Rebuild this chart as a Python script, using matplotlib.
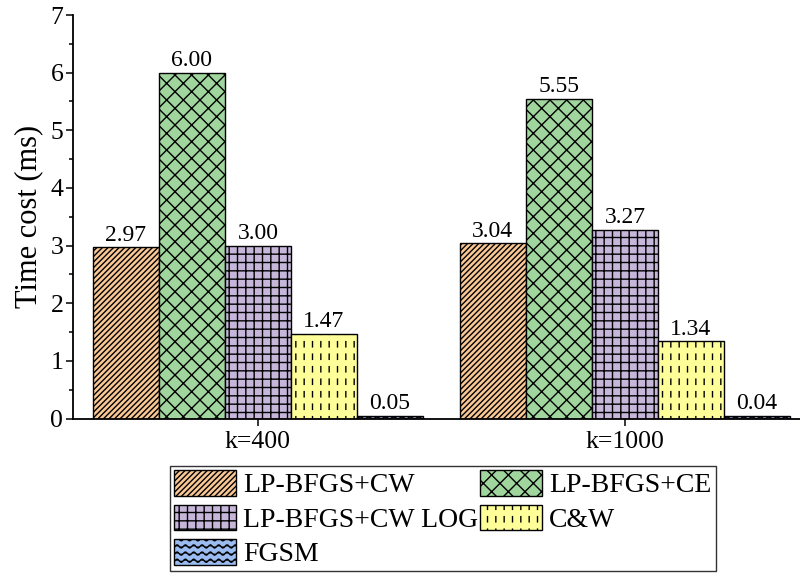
import warnings
warnings.filterwarnings("ignore")
import numpy as np
import matplotlib
matplotlib.use("Agg")
import matplotlib.pyplot as plt
import matplotlib.hatch as mhatch
from matplotlib.path import Path

# ---------------- data ----------------
categories = ["k=400", "k=1000"]
series_names = ["LP-BFGS+CW", "LP-BFGS+CE", "LP-BFGS+CW LOG", "C&W", "FGSM"]
lp_cw = [2.97, 3.04]
lp_ce = [6.00, 5.55]
lp_cw_log = [3.00, 3.27]
cw = [1.47, 1.34]
fgsm = [0.05, 0.04]
value_labels = [["2.97", "3.04"], ["6.00", "5.55"], ["3.00", "3.27"],
                ["1.47", "1.34"], ["0.05", "0.04"]]

# ---------------- custom hatches ----------------
class VDashHatch(mhatch.HatchPatternBase):
    def __init__(self, hatch, density):
        self.ncol, self.nrow = 12, 8
        self.num_vertices = self.ncol * self.nrow * 2 if '!' in hatch else 0

    def set_vertices_and_codes(self, vertices, codes):
        xs = (np.arange(self.ncol) + 0.5) / self.ncol
        ys = (np.arange(self.nrow) + 0.25) / self.nrow
        L = 0.42 / self.nrow
        k = 0
        for x in xs:
            for y in ys:
                vertices[k] = (x, y)
                vertices[k + 1] = (x, y + L)
                codes[k] = Path.MOVETO
                codes[k + 1] = Path.LINETO
                k += 2


class WaveHatch(mhatch.HatchPatternBase):
    def __init__(self, hatch, density):
        self.nrow, self.nwave, self.ppw = 14, 12, 8
        self.npts = self.nwave * self.ppw + 1
        self.num_vertices = self.nrow * self.npts if '~' in hatch else 0

    def set_vertices_and_codes(self, vertices, codes):
        t = np.linspace(0, 1, self.npts)
        amp = 0.22 / self.nrow
        k = 0
        for i in range(self.nrow):
            y0 = (i + 0.5) / self.nrow
            y = y0 + amp * np.sin(2 * np.pi * self.nwave * t)
            vertices[k:k + self.npts, 0] = t
            vertices[k:k + self.npts, 1] = y
            codes[k] = Path.MOVETO
            codes[k + 1:k + self.npts] = Path.LINETO
            k += self.npts


mhatch._hatch_types.append(VDashHatch)
mhatch._hatch_types.append(WaveHatch)

# ---------------- style ----------------
plt.rcParams['font.family'] = ['Liberation Serif', 'DejaVu Serif']
plt.rcParams['hatch.linewidth'] = 1.0
plt.rcParams['hatch.color'] = 'black'

colors = ['#FAC896', '#A0D69E', '#C5B6DA', '#FFFF99', '#9BBCF0']
hatches = ['//////', 'xx', '++', '!', '~']
series = [lp_cw, lp_ce, lp_cw_log, cw, fgsm]

fig = plt.figure(figsize=(8, 5.76), dpi=100)
ax = fig.add_axes([0.09125, 0.2734, 0.90875, 0.7005])

x = np.arange(len(categories))
w = 0.18
handles = []
for i, (vals, name, c, h) in enumerate(zip(series, series_names, colors, hatches)):
    pos = x + (i - 2) * w
    bars = ax.bar(pos, vals, width=w, color=c, edgecolor='black', linewidth=1.0,
                  hatch=h, label=name)
    handles.append(bars)
    for b, lab in zip(bars, value_labels[i]):
        ax.text(b.get_x() + b.get_width() / 2, b.get_height() + 0.03, lab,
                ha='center', va='bottom', fontsize=17)

ax.set_xlim(-0.504, 1.477)
ax.set_ylim(0, 7)
ax.set_xticks(x)
ax.set_xticklabels(categories, fontsize=18.5)
ax.set_yticks(np.arange(0, 8, 1))
ax.set_yticks(np.arange(0.5, 7, 1), minor=True)
ax.tick_params(axis='y', which='major', labelsize=18.5, length=5, width=1.1, direction='out', pad=2)
ax.tick_params(axis='y', which='minor', length=3, width=1.1, direction='out')
ax.tick_params(axis='x', which='major', length=5, width=1.1, direction='out', pad=4)
ax.tick_params(axis='x', which='minor', bottom=False)
for s in ['top', 'right']:
    ax.spines[s].set_visible(False)
for s in ['left', 'bottom']:
    ax.spines[s].set_linewidth(1.3)
ax.set_ylabel("Time cost (ms)", fontsize=22, labelpad=5)

# row-major order in a 2-column legend
order = [0, 2, 4, 1, 3]
leg = fig.legend([handles[i] for i in order], [series_names[i] for i in order],
                 loc='upper center', bbox_to_anchor=(443 / 800, 1 - 466 / 576),
                 bbox_transform=fig.transFigure, ncol=2, fontsize=20,
                 frameon=True, fancybox=False, edgecolor='black',
                 handlelength=2.23, handleheight=1.04, handletextpad=0.25,
                 labelspacing=0.22, columnspacing=0.07, borderpad=0.15,
                 borderaxespad=0)
leg.get_frame().set_linewidth(1.0)

fig.savefig("out.png", dpi=100)
